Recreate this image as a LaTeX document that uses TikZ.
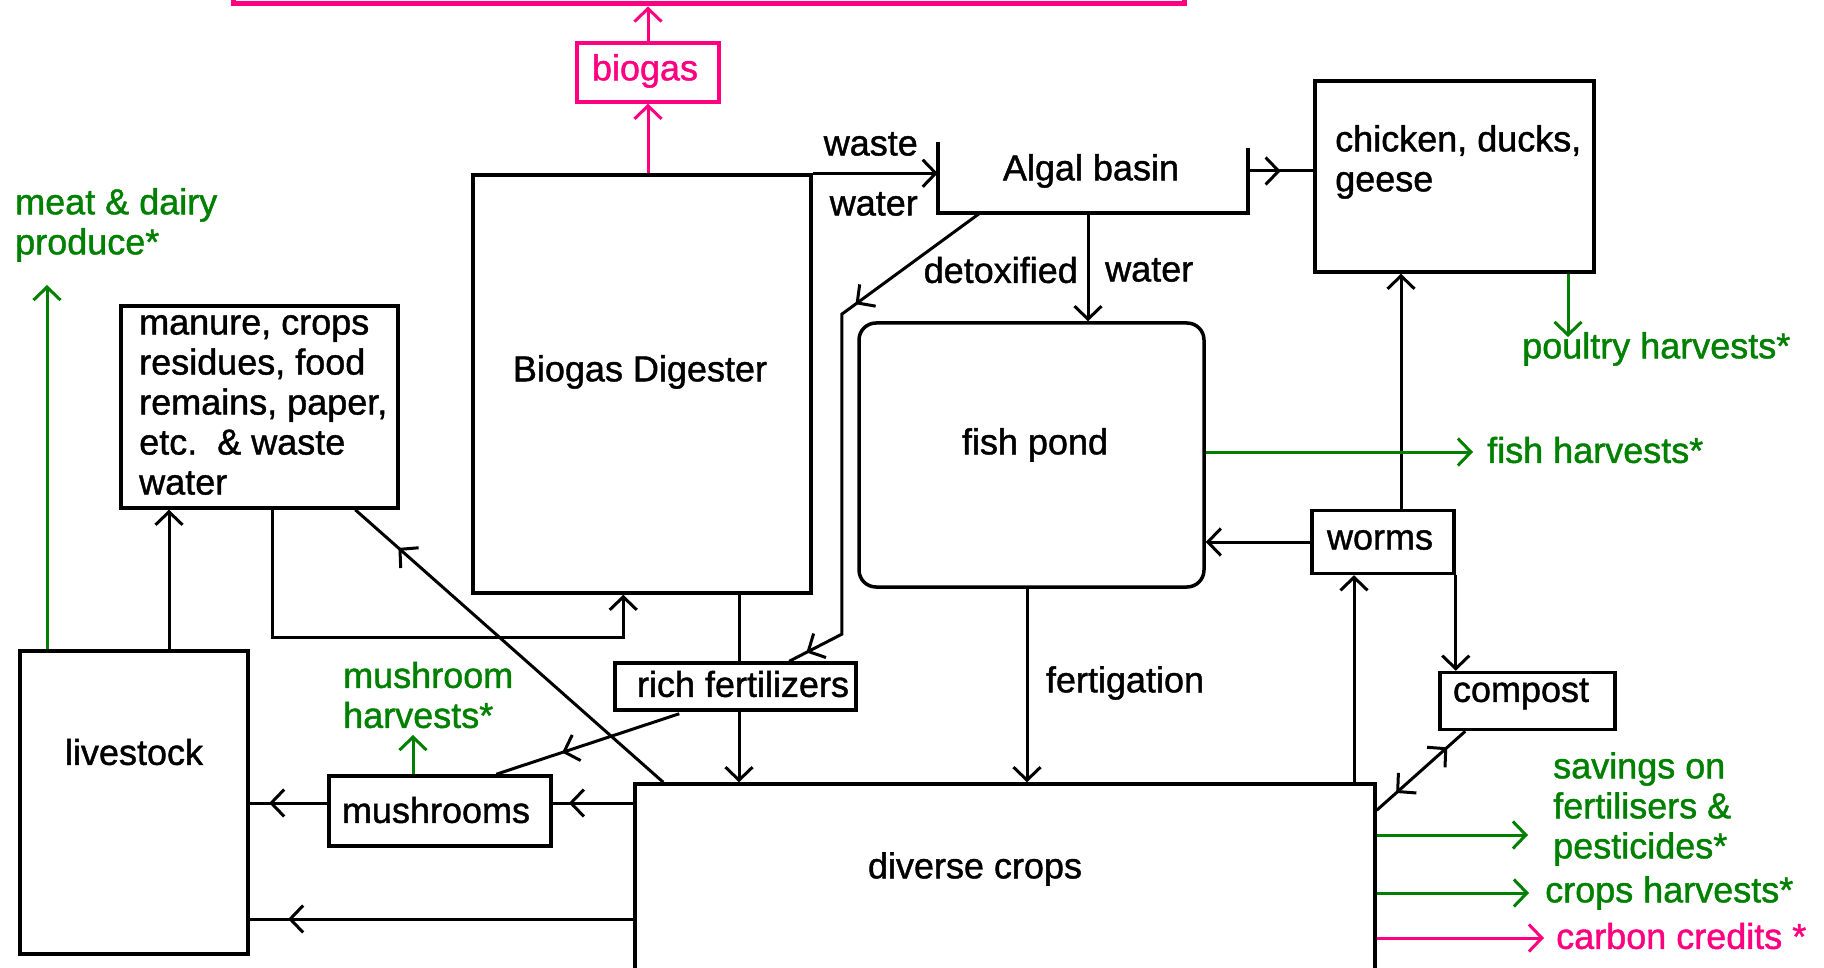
\documentclass[tikz,border=0pt]{standalone}
\usepackage{fontspec}
\setmainfont{Liberation Sans}
\newfontfamily\diagfont{Liberation Sans}[FakeBold=1.2]
\usetikzlibrary{arrows.meta,decorations.markings,calc}
\definecolor{leafgreen}{RGB}{0,128,0}
\definecolor{gaspink}{RGB}{255,0,128}
\begin{document}
\begin{tikzpicture}[x=1pt,y=-1pt,
  font=\diagfont\fontsize{36}{40}\selectfont,
  vbarb/.tip={Straight Barb[length=13pt,width=27pt]},
  box/.style={draw,line width=3.5pt,inner sep=0pt},
  plain/.style={line width=3pt},
  flow/.style={line width=3pt,-vbarb},
  gflow/.style={flow,draw=leafgreen},
  pflow/.style={flow,draw=gaspink},
  midtip/.style={postaction={decorate,decoration={markings,mark=at position #1 with {\arrow{vbarb}}}}},
  midtipback/.style={postaction={decorate,decoration={markings,mark=at position #1 with {\arrowreversed{vbarb}}}}},
  gtext/.style={text=leafgreen,align=left,anchor=west,inner sep=0pt},
  txt/.style={align=left,inner sep=0pt},
]
\useasboundingbox (0,0) rectangle (1824,968);
\fill[white] (0,0) rectangle (1824,968);
\clip (0,0) rectangle (1824,968);

% ---------- boxes ----------
\node[box,draw=gaspink,line width=5pt,minimum width=951pt,minimum height=60pt] (stove) at (708.5,-26) {};
\node[box,draw=gaspink,text=gaspink,minimum width=142pt,minimum height=59pt] (biogas) at (648,72.5) {};
\node[text=gaspink] (biogastxt) at (645,71) {biogas};
\node[box,minimum width=338pt,minimum height=418pt] (digester) at (642,384) {};
\node (digtxt) at (640,372) {Biogas Digester};

\node[inner sep=0pt,minimum width=310pt,minimum height=71pt] (algal) at (1093,177.5) {};
\node (algaltxt) at (1091,171) {Algal basin};
\draw[line width=3.5pt] (algal.north west) -- (algal.south west) -- (algal.south east) -- ($(algal.north east)+(0,6)$);

\node[box,minimum width=279pt,minimum height=191pt] (poultry) at (1454.5,176.5) {};
\node[txt,anchor=west] (poultrytxt) at (1335,162) {chicken, ducks,\\geese};

\node[box,rounded corners=17pt,minimum width=345pt,minimum height=264pt] (pond) at (1031.5,455) {};
\node (pondtxt) at (1035,445) {fish pond};

\node[box,minimum width=142pt,minimum height=63pt] (worms) at (1383,542) {};
\node (wormstxt) at (1380,540) {worms};
\node[box,minimum width=175pt,minimum height=57pt] (compost) at (1527.5,701) {};
\node (composttxt) at (1521,694) {compost};

\node[box,minimum width=740pt,minimum height=240pt] (crops) at (1005,904) {};
\node (cropstxt) at (975,869) {diverse crops};

\node[box,minimum width=241pt,minimum height=47pt] (richfert) at (735.5,686.5) {};
\node (richtxt) at (743,684) {rich fertilizers};

\node[box,minimum width=277pt,minimum height=202pt] (manure) at (259.5,407) {};
\node[txt,anchor=west] (manuretxt) at (139,405) {manure, crops\\residues, food\\remains, paper,\\etc.\ \ \& waste\\water};

\node[box,minimum width=228pt,minimum height=303pt] (livestock) at (134,802.5) {};
\node (livestocktxt) at (134,752) {livestock};

\node[box,minimum width=222pt,minimum height=70pt] (mushrooms) at (440,811) {};
\node (mushtxt) at (436,810) {mushrooms};

% ---------- gas line ----------
\draw[pflow] (biogas.north) -- (biogas.north |- stove.south);
\draw[pflow] (digester.north -| biogas.south) -- (biogas.south);

% ---------- water circuit ----------
\draw[flow] (digester.north east) -- (digester.north east -| algal.west);
\node[anchor=east,inner sep=0pt] (wastelbl) at (918,144) {waste};
\node[anchor=east,inner sep=0pt] (waterlbl) at (918,204) {water};

\draw[plain,midtip=0.5] (algal.east |- algaltxt) -- (poultry.west |- algaltxt);

\coordinate (detox) at (1088,0);
\draw[flow] (algal.south -| detox) -- (pond.north -| detox);
\node[anchor=east,inner sep=0pt] (detoxlbl) at (1078,270) {detoxified};
\node[anchor=west,inner sep=0pt] (detoxwater) at (1105,270) {water};

\draw[plain,midtip=0.28,midtip=0.965] ($(algal.south west)+(42,0)$) -- ++(-138,101) -- ++(0,320) -- ($(richfert.north west)+(176,0)$);

\coordinate (fertx) at (1027,0);
\draw[flow] (pond.south -| fertx) -- (crops.north -| fertx);
\node (fertlbl) at (1125,683) {fertigation};

% ---------- worms and compost ----------
\draw[flow] (worms.west) -- (worms.west -| pond.east);
\coordinate (wormsup) at (1401,0);
\draw[flow] (worms.north -| wormsup) -- (poultry.south -| wormsup);
\coordinate (wormsin) at (1354,0);
\draw[flow] (crops.north -| wormsin) -- (worms.south -| wormsin);
\draw[flow] (worms.south east) -- (worms.south east |- compost.north);
\draw[plain,midtip=0.8,midtipback=0.22] ($(crops.north east)+(0,28)$) -- ($(compost.south west)+(27,0)$);

% ---------- fertilizers ----------
\coordinate (richx) at (739,0);
\draw[plain] (digester.south -| richx) -- (richfert.north -| richx);
\draw[flow] (richfert.south -| richx) -- (crops.north -| richx);
\draw[plain,midtip=0.64] ($(richfert.south west)+(66,2)$) -- ($(mushrooms.north west)+(169,0)$);

% ---------- organic waste loop ----------
\coordinate (lsx) at (169,0);
\draw[flow] (livestock.north -| lsx) -- (manure.south -| lsx);
\coordinate (loopcorner) at (272,637);
\draw[flow] (manure.south -| loopcorner) -- (loopcorner) -| ($(digester.south west)+(152,0)$);
\draw[plain,midtip=0.86] ($(crops.north west)+(30,0)$) -- ($(manure.south west)+(236,0)$);

% ---------- feed ----------
\coordinate (mushrow) at (0,803);
\draw[plain,midtip=0.8] (crops.west |- mushrow) -- (mushrooms.east |- mushrow);
\draw[plain,midtip=0.75] (mushrooms.west |- mushrow) -- (livestock.east |- mushrow);
\coordinate (lowrow) at (0,919);
\draw[plain,midtip=0.9] (crops.west |- lowrow) -- (livestock.east |- lowrow);

% ---------- harvests ----------
\coordinate (meatout) at (47,285);
\draw[gflow] (livestock.north -| meatout) -- (meatout);
\node[gtext] (meatlbl) at (15,225) {meat \& dairy\\produce*};

\coordinate (mushout) at (413,735);
\draw[gflow] (mushrooms.north -| mushout) -- (mushout);
\node[gtext] (mushlbl) at (343,695) {mushroom\\harvests*};

\coordinate (poultryout) at (1568,337);
\draw[gflow] (poultry.south -| poultryout) -- (poultryout);
\node[gtext] (poultrylbl) at (1522,349) {poultry harvests*};

\coordinate (fishout) at (1473,452);
\draw[gflow] (pond.east |- fishout) -- (fishout);
\node[gtext] (fishlbl) at (1487,450) {fish harvests*};

\coordinate (savout) at (1528,835);
\draw[gflow] (crops.east |- savout) -- (savout);
\node[gtext] (savlbl) at (1553,809) {savings on\\fertilisers \&\\pesticides*};

\coordinate (cropout) at (1529,893);
\draw[gflow] (crops.east |- cropout) -- (cropout);
\node[gtext] (croplbl) at (1545,893) {crops harvests*};

\coordinate (carbonout) at (1544,938);
\draw[pflow] (crops.east |- carbonout) -- (carbonout);
\node[gtext,text=gaspink] (carbonlbl) at (1556,936) {carbon credits *};
\end{tikzpicture}
\end{document}
